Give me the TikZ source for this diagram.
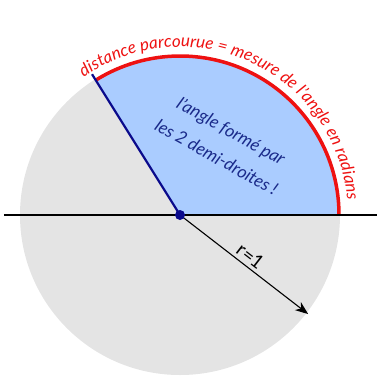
\documentclass[tikz,border=0pt]{standalone}
\usepackage{fontspec}
\setmainfont{Lato}
\usetikzlibrary{arrows.meta,decorations.text}
\definecolor{diskgray}{HTML}{E4E4E4}
\definecolor{sectorblue}{HTML}{AACCFF}
\definecolor{rayblue}{HTML}{0A0A8C}
\definecolor{textblue}{HTML}{1A2A8A}
\definecolor{arcred}{HTML}{EE1111}
\tikzset{
  raystyle/.style={draw=rayblue,line width=2.2pt},
  axisstyle/.style={draw=black,line width=1.8pt},
  radiusstyle/.style={draw=black,line width=1.1pt,-{Stealth[length=13pt,width=10pt,inset=4pt]}},
  arcstyle/.style={draw=arcred,line width=3.5pt}
}
\begin{document}
\begin{tikzpicture}[x=1pt,y=1pt]
\useasboundingbox (-180pt,-161pt) rectangle (197pt,215pt);
\coordinate (O) at (0pt,0pt);
\coordinate (L) at (-176pt,0pt);
\coordinate (R) at (197pt,0pt);
\coordinate (Rtop) at (122:166pt);
\coordinate (Tip) at (-37.7:162pt);
% disk
\fill[diskgray] (O) circle[radius=160pt];
% sector
\fill[sectorblue] (O) -- (0:159pt) arc[start angle=0,end angle=122,radius=159pt] -- cycle;
% red arc
\draw[arcstyle] (0:159pt) arc[start angle=0,end angle=122,radius=159pt];
% axis
\draw[axisstyle] (L) -- (R);
% blue ray
\draw[raystyle] (O) -- (Rtop);
% radius arrow
\draw[radiusstyle] (O) -- node[sloped,above,pos=0.5,inner sep=3pt,font=\fontsize{19}{19}\selectfont] (rlab) {r=1} (Tip);
% center dot
\node[circle,fill=rayblue,inner sep=0pt,minimum size=10pt] (dot) at (O) {};
% text in sector
\node[rotate=-29,align=center,text=textblue,font=\fontsize{17.5}{30}\selectfont\itshape] (angtxt) at (44pt,71pt) {l'angle formé par\\les 2 demi-droites !};
% text along arc
\path[decorate,decoration={text along path,text align=center,
  text={|\fontsize{17}{17}\selectfont\itshape\color{arcred}|distance parcourue = mesure de l'angle en radians}}]
  (130:168pt) arc[start angle=130,end angle=0,radius=168pt];
\end{tikzpicture}
\end{document}
